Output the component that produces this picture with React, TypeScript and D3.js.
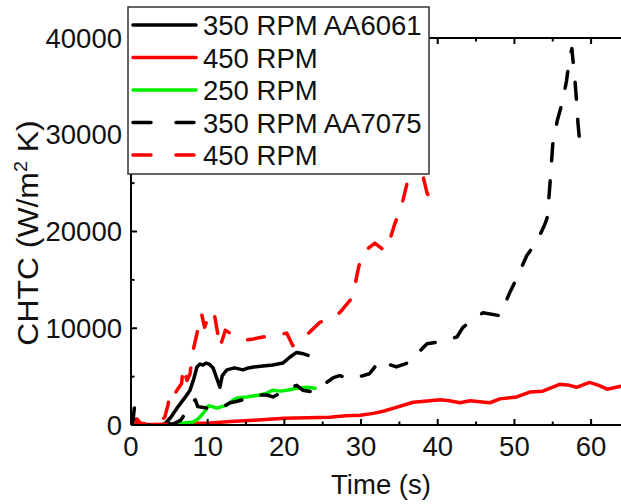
import React from "react";
import * as d3 from "d3";

// ---- data ----
const t6061_350 = [3.8, 4.4, 5.2, 6.1, 7.0, 7.7, 8.2, 8.6, 9.0, 9.4, 9.8, 10.2, 10.7, 11.2, 11.6, 11.9, 12.5, 13.5, 14.6, 15.3, 16, 17.2, 18.5, 19.8, 20.7, 21.6, 22.3, 23.1];
const v6061_350 = [0, 100, 800, 1850, 2800, 3600, 4800, 6000, 6300, 6200, 6400, 6300, 5900, 4800, 3900, 5100, 5700, 5900, 5700, 5900, 6000, 6100, 6200, 6400, 7000, 7500, 7400, 7200];

const t6061_450 = [0.8, 3, 6, 8, 10.3, 13, 16, 20, 23, 25.9, 28, 29.9, 31.6, 33, 34.7, 36.8, 39, 40.3, 41.5, 42.9, 44.2, 45.5, 46.8, 48.1, 50.3, 52, 53.7, 55.9, 57.2, 58.1, 59.8, 61, 62.1, 63.9];
const v6061_450 = [50, 50, 100, 150, 200, 350, 500, 700, 750, 800, 950, 1000, 1200, 1450, 1850, 2350, 2500, 2600, 2500, 2300, 2500, 2400, 2300, 2700, 2900, 3400, 3500, 4200, 4100, 3900, 4400, 4100, 3700, 4000];

const t6061_250 = [5.5, 7, 8.1, 8.7, 9.2, 9.7, 10.1, 10.6, 11.2, 12.5, 13.2, 13.8, 15.1, 16.8, 17.7, 18.5, 19.5, 20.3, 21.6, 22.9, 24];
const v6061_250 = [100, 200, 300, 600, 1000, 1500, 2000, 1900, 1750, 2050, 2500, 2800, 2900, 3100, 3300, 3600, 3500, 3600, 3800, 3900, 3800];

const t7075_350 = [0.2, 0.4, 0.5, 0.6, 0.8, 2, 4, 5.5, 6.5, 7.3, 8.0, 8.4, 8.7, 9.5, 10.5, 11.6, 12.3, 12.9, 13.6, 14.5, 15.5, 16.4, 17.7, 18.5, 19.5, 20.5, 21.6, 22.4, 23.7, 25, 26.4, 27.2, 28.5, 29.8, 31.1, 32.5, 33.5, 34.6, 36.4, 37.5, 38.6, 40.3, 42.5, 43.3, 44.6, 45.9, 48.1, 49.4, 50.5, 51.6, 52.9, 54, 54.3, 54.6, 55.0, 55.6, 56.3, 56.8, 57.2, 57.5, 57.6, 57.9, 58.1, 58.3, 58.5];
const v7075_350 = [0, 1500, 2200, 1000, 100, 0, 0, 100, 500, 1500, 2400, 2600, 1900, 1800, 1700, 1750, 2000, 2300, 2400, 2600, 2900, 3100, 3100, 2900, 3300, 3800, 4100, 3600, 3400, 4100, 4900, 5100, 4800, 5000, 5300, 6700, 6300, 6000, 6500, 7500, 8400, 8600, 9100, 10100, 10900, 11600, 11300, 13700, 15500, 17500, 18900, 20800, 21500, 24500, 29000, 31500, 33500, 35600, 38000, 38900, 38000, 35600, 33500, 31100, 29400];

const t7075_450 = [0.6, 0.8, 1.2, 2.5, 3.5, 4.4, 4.8, 5.1, 5.5, 6.0, 6.6, 6.8, 7.3, 7.7, 8.1, 8.7, 9.2, 9.6, 10, 10.5, 10.9, 11.3, 11.6, 12.3, 13.5, 15.1, 16, 17.2, 18.5, 20.3, 21.1, 22, 23.3, 24.6, 26, 27.2, 28.9, 29.6, 30.1, 31, 31.8, 33.1, 33.5, 34.4, 35.3, 36.1, 36.8, 37.4, 38, 38.6, 39];
const v7075_450 = [0, 600, 200, 0, 100, 800, 2000, 3300, 2900, 3600, 4300, 6000, 4600, 5300, 7700, 9800, 11500, 10100, 11000, 11800, 11300, 9500, 8000, 9800, 9200, 8800, 8900, 9100, 9200, 9500, 8200, 8700, 9600, 10600, 11000, 11600, 13200, 16000, 17700, 18300, 18800, 18000, 18500, 20800, 22700, 25300, 26500, 28000, 26000, 24000, 23300];

const legendLabels = ["350 RPM AA6061", "450 RPM", "250 RPM", "350 RPM AA7075", "450 RPM"];
const xTicks = [0, 10, 20, 30, 40, 50, 60];
const yTicks = [0, 10000, 20000, 30000, 40000];

const series = [
  { t: t6061_350, v: v6061_350, color: "#000000", dashed: false },
  { t: t6061_450, v: v6061_450, color: "#ff0000", dashed: false },
  { t: t6061_250, v: v6061_250, color: "#00ee00", dashed: false },
  { t: t7075_350, v: v7075_350, color: "#000000", dashed: true },
  { t: t7075_450, v: v7075_450, color: "#ff0000", dashed: true },
];

const W = 621;
const H = 504;
const L = 131;
const R = 621;
const T = 38;
const B = 425;
const FONT = "'Liberation Sans', Arial, sans-serif";

export default function App() {
  const x = d3.scaleLinear().domain([0, 63.9]).range([L, R]);
  const y = d3.scaleLinear().domain([0, 40000]).range([B, T]);
  const line = d3
    .line<[number, number]>()
    .x((d) => x(d[0]))
    .y((d) => y(d[1]));

  const xMinor = d3.range(0, 64, 5);
  const yMinor = d3.range(0, 40001, 5000);

  const legendRowY = [25, 57.5, 90, 122.5, 155];

  return (
    <svg
      width={W}
      height={H}
      style={{ position: "absolute", left: 0, top: 0, background: "#fff" }}
      fontFamily={FONT}
    >
      <defs>
        <clipPath id="plotclip">
          <rect x={L} y={T - 2} width={R - L} height={B - T + 2} />
        </clipPath>
      </defs>

      {/* series */}
      <g clipPath="url(#plotclip)">
        {series.map((s, i) => (
          <path
            key={i}
            d={line(s.t.map((tt, j) => [tt, s.v[j]] as [number, number])) || ""}
            fill="none"
            stroke={s.color}
            strokeWidth={3.5}
            strokeLinejoin="round"
            strokeLinecap="round"
            strokeDasharray={s.dashed ? "17 20" : undefined}
          />
        ))}
      </g>

      {/* axes */}
      <g stroke="#000" strokeWidth={2} fill="none">
        <line x1={L} y1={B} x2={R} y2={B} />
        <line x1={L} y1={T} x2={R} y2={T} />
        <line x1={L} y1={T} x2={L} y2={B} />
      </g>
      <g stroke="#000" strokeWidth={2}>
        {xMinor.map((v) => {
          const major = v % 10 === 0;
          const len = major ? 6 : 3.5;
          return (
            <g key={"xt" + v}>
              <line x1={x(v)} x2={x(v)} y1={B} y2={B - len} />
              <line x1={x(v)} x2={x(v)} y1={T} y2={T + len} />
            </g>
          );
        })}
        {yMinor.map((v) => {
          const major = v % 10000 === 0;
          const len = major ? 6 : 3.5;
          return <line key={"yt" + v} x1={L} x2={L + len} y1={y(v)} y2={y(v)} />;
        })}
      </g>

      {/* tick labels */}
      <g fontSize={27.5} fill="#111">
        {xTicks.map((v) => (
          <text key={"xl" + v} x={x(v)} y={456} textAnchor="middle">
            {v}
          </text>
        ))}
        {yTicks.map((v) => (
          <text key={"yl" + v} x={122} y={y(v) + 9.5} textAnchor="end">
            {v}
          </text>
        ))}
      </g>

      {/* axis titles */}
      <text x={381} y={494} fontSize={27.5} textAnchor="middle" fill="#111">
        Time (s)
      </text>
      <text
        transform="translate(38,233) rotate(-90) scale(1.1,1)"
        fontSize={29}
        textAnchor="middle"
        fill="#111"
      >
        CHTC (W/m
        <tspan fontSize={18} dy={-11}>
          2
        </tspan>
        <tspan dy={11}> K)</tspan>
      </text>

      {/* legend */}
      <rect x={128} y={7} width={301} height={167} fill="#fff" stroke="#333" strokeWidth={1.5} />
      {series.map((s, i) => (
        <g key={"lg" + i}>
          <line
            x1={133}
            x2={196}
            y1={legendRowY[i]}
            y2={legendRowY[i]}
            stroke={s.color}
            strokeWidth={3.5}
            strokeLinecap="round"
            strokeDasharray={s.dashed ? "18 25" : undefined}
          />
          <text x={203} y={legendRowY[i] + 10} fontSize={27.5} fill="#111">
            {legendLabels[i]}
          </text>
        </g>
      ))}
    </svg>
  );
}
